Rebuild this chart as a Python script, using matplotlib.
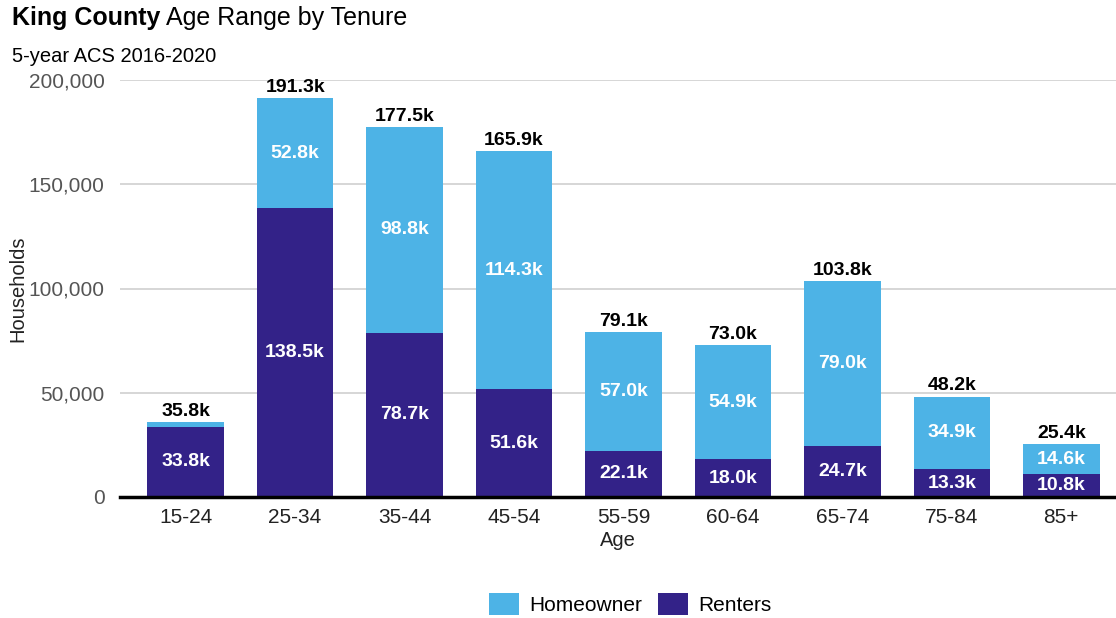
import matplotlib.pyplot as plt
import numpy as np

# data (thousands of households)
ages = ["15-24", "25-34", "35-44", "45-54", "55-59", "60-64", "65-74", "75-84", "85+"]
renters = [33.8, 138.5, 78.7, 51.6, 22.1, 18.0, 24.7, 13.3, 10.8]
owners = [2.0, 52.8, 98.8, 114.3, 57.0, 54.9, 79.0, 34.9, 14.6]
totals = [35.8, 191.3, 177.5, 165.9, 79.1, 73.0, 103.8, 48.2, 25.4]

owner_col = "#4DB3E6"
renter_col = "#332288"

plt.rcParams['font.family'] = ['Liberation Sans', 'DejaVu Sans']

fig = plt.figure(figsize=(11.16, 6.18), dpi=100)
ax = fig.add_axes([120 / 1116, 121 / 618, 996 / 1116, 417 / 618])

x = np.arange(len(ages))
r = np.array(renters) * 1000
o = np.array(owners) * 1000
ax.bar(x, r, width=0.7, color=renter_col, label="Renters", zorder=3)
ax.bar(x, o, width=0.7, bottom=r, color=owner_col, label="Homeowner", zorder=3)

# labels inside segments
for i in range(len(ages)):
    ax.text(x[i], r[i] / 2, f"{renters[i]:.1f}k", ha="center", va="center",
            color="white", fontsize=14, fontweight="bold", zorder=4)
    if owners[i] > 5:
        ax.text(x[i], r[i] + o[i] / 2, f"{owners[i]:.1f}k", ha="center", va="center",
                color="white", fontsize=14, fontweight="bold", zorder=4)
    ax.text(x[i], (r[i] + o[i]) + 1000, f"{totals[i]:.1f}k", ha="center", va="bottom",
            color="black", fontsize=14, fontweight="bold", zorder=4)

ax.set_xlim(-0.6, 8.5)
ax.set_ylim(0, 200000)
ax.set_yticks([0, 50000, 100000, 150000, 200000])
ax.set_yticklabels(["0", "50,000", "100,000", "150,000", "200,000"])
ax.set_xticks(x)
ax.set_xticklabels(ages)
ax.tick_params(axis="y", length=0, labelsize=15, labelcolor="#555555", pad=11)
ax.tick_params(axis="x", length=0, labelsize=15, labelcolor="#222222", pad=8)
ax.grid(axis="y", color="#D0D0D0", linewidth=1.2, zorder=0)
for s in ["top", "right", "left"]:
    ax.spines[s].set_visible(False)
ax.spines["bottom"].set_color("black")
ax.spines["bottom"].set_linewidth(2.5)
ax.spines["bottom"].set_zorder(5)

ax.set_xlabel("Age", fontsize=14.5, color="#222222", labelpad=3)
ax.set_ylabel("Households", fontsize=14.5, color="#222222")
ax.yaxis.set_label_coords(-93 / 996, 0.5)

# title: bold part then regular part
t1 = fig.text(12 / 1116, 1 - 18 / 618, "King County", fontsize=18, fontweight="bold", va="center")
fig.canvas.draw()
bb = t1.get_window_extent()
fig.text(bb.x1 / 1116 + 6 / 1116, 1 - 18 / 618, "Age Range by Tenure", fontsize=18, va="center")
fig.text(12 / 1116, 1 - 57 / 618, "5-year ACS 2016-2020", fontsize=14.5, va="center")

h, l = ax.get_legend_handles_labels()
fig.legend(h[::-1], l[::-1], loc="center", bbox_to_anchor=(630 / 1116, 1 - 604 / 618),
           ncol=2, frameon=False, fontsize=15, handlelength=1.45, handleheight=1.2,
           columnspacing=0.75, handletextpad=0.5)

plt.savefig("out.png", dpi=100)
